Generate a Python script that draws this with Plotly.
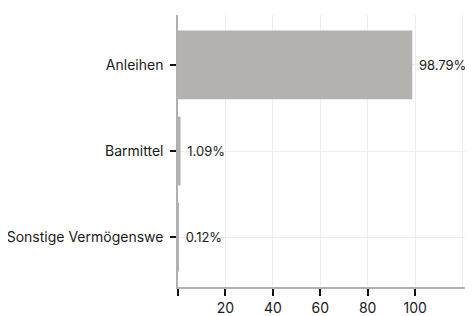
import plotly.graph_objects as go

categories = ["Sonstige Vermögenswe", "Barmittel", "Anleihen"]
values = [0.12, 1.09, 98.79]
labels = ["0.12%", "1.09%", "98.79%"]
tick_vals = [0, 20, 40, 60, 80, 100]
tick_text = ["", "20", "40", "60", "80", "100"]

fig = go.Figure(go.Bar(
    x=values, y=categories, orientation="h",
    marker=dict(color="#b3b2ae", line=dict(width=0)),
    width=0.8,
    text=labels, texttemplate=" %{text}", textposition="outside", cliponaxis=False,
    textfont=dict(size=13, color="#1a1a1a"),
))

fig.update_layout(
    width=465, height=308,
    margin=dict(l=169.5, r=0, t=7, b=29),
    paper_bgcolor="white", plot_bgcolor="white",
    font=dict(family="Inter", size=14, color="#1a1a1a"),
    showlegend=False,
    xaxis=dict(
        range=[0, 124.4], tickvals=tick_vals, ticktext=tick_text,
        showgrid=True, gridcolor="#ededed", gridwidth=1,
        showline=True, linecolor="#b0b0b0", linewidth=1.5,
        ticks="outside", ticklen=7, tickcolor="#111111", tickwidth=1.5,
        zeroline=False,
        minor=dict(tickvals=[120], showgrid=True, gridcolor="#ededed", ticklen=0),
    ),
    yaxis=dict(
        range=[-0.58, 2.58],
        showgrid=True, gridcolor="#ededed", gridwidth=1,
        showline=True, linecolor="#b0b0b0", linewidth=1.5,
        ticks="outside", ticklen=6, tickcolor="#111111", tickwidth=1.5,
        ticklabelstandoff=4,
    ),
)

fig.write_html("out.html")
